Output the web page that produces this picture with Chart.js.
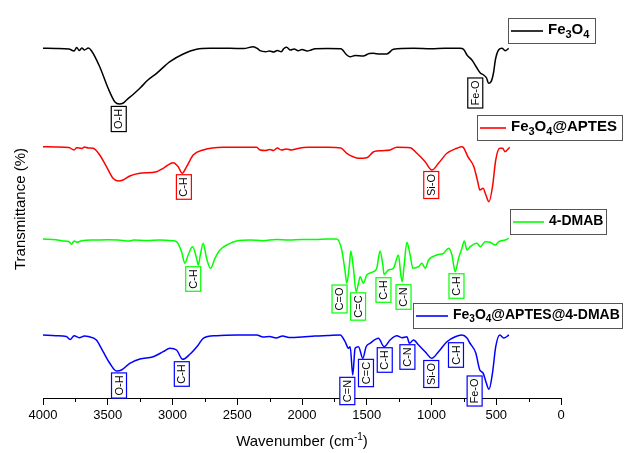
<!DOCTYPE html>
<html>
<head>
<meta charset="utf-8">
<title>FTIR spectra</title>
<script src="https://cdn.jsdelivr.net/npm/chart.js@4.4.0/dist/chart.umd.min.js"></script>
<style>
  html, body { margin: 0; padding: 0; background: #fff; }
  #wrap { width: 624px; height: 453px; position: relative; }
</style>
</head>
<body>
<div id="wrap"><canvas id="ftirChart"></canvas></div>
<script>
// FTIR spectra of the four samples, stacked with a vertical offset (arbitrary units)
const FONT = "'Liberation Sans', Arial, sans-serif";

const seriesNames = ['Fe3O4', 'Fe3O4@APTES', '4-DMAB', 'Fe3O4@APTES@4-DMAB'];
const seriesColors = ['#000000', '#ff0000', '#00ff00', '#0000ff'];

const fe3o4Wn = [4000, 3900, 3800, 3760, 3740, 3720, 3700, 3680, 3650, 3626, 3562, 3497, 3446, 3410, 3380, 3355, 3300, 3252, 3190, 3123,
  3020, 2917, 2814, 2711, 2556, 2450, 2376, 2340, 2324, 2280, 2250, 2220, 2190, 2160, 2140, 2118, 2090, 2060, 2030, 2000,
  1960, 1930, 1900, 1800, 1700, 1654, 1628, 1590, 1528, 1480, 1450, 1400, 1345, 1294, 1140, 1000, 900, 780, 752, 726,
  688, 649, 623, 598, 575, 559, 540, 520, 507, 482, 456, 430, 404];
const fe3o4T = [349.7, 349.5, 349, 347, 350.5, 347.5, 350, 348, 350, 347.3, 331.3, 309.7, 296.3, 294, 295, 298, 304, 309.7, 318, 324.7,
  336.3, 344, 348.7, 349.7, 349.7, 349.5, 351.3, 349, 347.3, 346.3, 347, 346, 347.5, 346.3, 349.5, 350.7, 348, 349, 347.3, 348.5,
  347, 348, 349.3, 349.5, 349.3, 343, 341.3, 342.5, 342, 344.5, 344.7, 344, 344, 348.7, 349.7, 349.3, 349.7, 349.7, 348.7, 343,
  338, 330, 325, 323, 320, 314.7, 316.3, 326, 338, 348, 349.7, 347.3, 349.7];

const aptesWn = [4000, 3900, 3800, 3760, 3740, 3700, 3680, 3650, 3613, 3562, 3510, 3459, 3420, 3381, 3330, 3252, 3123, 3072, 2995, 2956,
  2925, 2891, 2840, 2763, 2608, 2350, 2324, 2280, 2250, 2220, 2190, 2160, 2120, 2080, 2040, 1950, 1800, 1700, 1654, 1600,
  1564, 1500, 1450, 1423, 1380, 1320, 1268, 1165, 1113, 1049, 997, 946, 881, 804, 766, 752, 719, 673, 643, 627,
  602, 580, 556, 529, 504, 473, 450, 433, 396];
const aptesT = [251.3, 251, 250.5, 248, 250.3, 249.5, 251, 250, 249.7, 243, 231.3, 219.7, 217, 218, 222, 224.7, 226.3, 229.7, 235.3, 231.3,
  224.7, 231.3, 243, 248, 250.7, 250.7, 248, 247.5, 248.5, 247.5, 250, 248, 249, 248, 249.3, 250.7, 250.7, 250, 244.7, 241,
  239.7, 240.3, 246, 247, 247.3, 248, 250.7, 250.3, 244.7, 236.3, 228, 234.7, 244.7, 249.7, 251.3, 250.3, 241.3, 231.3, 216.3, 208,
  209.7, 203, 196.3, 211.3, 238, 249.7, 249.7, 246.3, 250.7];

const dmabWn = [4000, 3900, 3843, 3800, 3780, 3760, 3740, 3700, 3600, 3500, 3420, 3331, 3300, 3200, 3100, 3000, 2969, 2930, 2904, 2879,
  2845, 2814, 2801, 2783, 2763, 2737, 2706, 2672, 2634, 2556, 2505, 2400, 2300, 2200, 2100, 2000, 1900, 1800, 1732, 1693,
  1667, 1654, 1634, 1623, 1603, 1582, 1564, 1551, 1526, 1500, 1448, 1423, 1397, 1376, 1366, 1333, 1294, 1255, 1237, 1226,
  1211, 1190, 1165, 1144, 1100, 1074, 1049, 1023, 958, 907, 868, 842, 817, 791, 765, 747, 726, 701, 649, 623,
  585, 546, 507, 481, 430, 404];
const dmabT = [159, 158.3, 157, 156.5, 153.7, 157, 155.7, 157.3, 158, 158.3, 158, 157, 158, 157.5, 158, 157.3, 156.3, 146.3, 134.7, 143,
  151.3, 139.7, 133, 144.7, 154.7, 139.7, 129.7, 139.7, 148, 154.7, 157, 158, 157.3, 158.5, 158, 158.5, 158.5, 159, 159, 148,
  126.3, 114.7, 133, 147, 129.7, 106.3, 114.7, 121.3, 114.7, 123, 126.3, 129.7, 147, 133, 123.7, 128, 129.7, 143, 123, 116.3,
  133, 155.7, 143, 129.7, 131.3, 134.7, 129.7, 138, 143, 144.7, 149.7, 143, 126.3, 139.7, 149.7, 157, 148, 151.3, 154.7, 151.3,
  156.3, 155.7, 153, 156.3, 158, 159.7];

const hybridWn = [4000, 3900, 3820, 3790, 3760, 3720, 3680, 3650, 3588, 3536, 3484, 3433, 3394, 3330, 3252, 3149, 3072, 3020, 2969, 2922,
  2866, 2801, 2763, 2660, 2500, 2350, 2300, 2250, 2200, 2150, 2100, 2000, 1900, 1800, 1706, 1667, 1641, 1628, 1608, 1590,
  1564, 1530, 1505, 1474, 1410, 1366, 1320, 1268, 1229, 1190, 1170, 1139, 1100, 1049, 997, 946, 881, 817, 765, 726,
  704, 658, 627, 602, 580, 556, 529, 504, 473, 442, 402];
const hybridT = [63, 62.3, 61.5, 58.5, 62.3, 60.3, 62, 61.5, 58, 46.3, 34.7, 27, 28, 34.7, 39, 41.3, 46.3, 49.7, 48, 38.7,
  43.7, 53, 59.7, 62.3, 63, 63, 61, 61.5, 60, 62, 60.5, 61, 62, 62.5, 63, 56.3, 49.7, 51.3, 23, 49.7,
  51.3, 39.7, 51.3, 54.7, 59.7, 51.3, 58, 62.3, 60.3, 61.3, 54.7, 58, 53, 46.3, 39.7, 46.3, 56.3, 61.3, 63, 60,
  55, 45, 28, 25, 16.3, 8.7, 25, 51.3, 63, 60, 63];

const xTicks = [4000, 3500, 3000, 2500, 2000, 1500, 1000, 500, 0];

// band assignments, placed under the absorptions of each spectrum
const bandLabels = ['O-H', 'Fe-O', 'C-H', 'Si-O', 'C-H', 'C=O', 'C=C', 'C-H', 'C-N', 'C-H',
  'O-H', 'C-H', 'C=N', 'C=C', 'C-H', 'C-N', 'Si-O', 'C-H', 'Fe-O'];
const bandSeries = [0, 0, 1, 1, 2, 2, 2, 2, 2, 2, 3, 3, 3, 3, 3, 3, 3, 3, 3];
const bandWn = [3415, 662, 2912, 1002, 2840, 1710, 1567, 1371, 1216, 807,
  3413, 2928, 1650, 1506, 1361, 1186, 1002, 811, 667];
const bandY = [279, 305, 211, 213, 119, 99, 91.5, 108, 101, 112,
  12.5, 24, 7, 25, 38, 41, 24, 43, 7];

const spectraWn = [fe3o4Wn, aptesWn, dmabWn, hybridWn];
const spectraT = [fe3o4T, aptesT, dmabT, hybridT];

// legend boxes sit beside each trace
const legendBoxes = [
  { x: 508, y: 18, w: 87, h: 25, line: 32, size: 15 },
  { x: 477, y: 115, w: 145, h: 25, line: 26, size: 15 },
  { x: 510, y: 209, w: 96, h: 25, line: 31, size: 14 },
  { x: 413, y: 303, w: 209, h: 25, line: 32, size: 14 }
];

function drawFormula(ctx, text, x, y, size) {
  // digits right after a letter are set as subscripts (Fe3O4)
  let cx = x;
  for (let i = 0; i < text.length; i++) {
    const ch = text[i];
    const sub = /\d/.test(ch) && i > 0 && /[A-Za-z]/.test(text[i - 1]);
    ctx.font = 'bold ' + (sub ? Math.round(size * 0.72) : size) + 'px ' + FONT;
    ctx.fillText(ch, cx, sub ? y + size * 0.3 : y);
    cx += ctx.measureText(ch).width;
  }
}

const decorPlugin = {
  id: 'decor',
  afterDatasetsDraw(chart) {
    const ctx = chart.ctx;
    const xs = chart.scales.x, ys = chart.scales.y;
    ctx.save();
    ctx.font = '11px ' + FONT;
    ctx.textAlign = 'center';
    ctx.textBaseline = 'middle';
    bandLabels.forEach((lab, i) => {
      const px = xs.getPixelForValue(bandWn[i]);
      const py = ys.getPixelForValue(bandY[i]);
      const w = ctx.measureText(lab).width + 5;
      ctx.save();
      ctx.translate(px, py);
      ctx.rotate(-Math.PI / 2);
      ctx.fillStyle = '#fff';
      ctx.fillRect(-w / 2, -7.5, w, 15);
      ctx.strokeStyle = seriesColors[bandSeries[i]];
      ctx.lineWidth = 1.2;
      ctx.strokeRect(-w / 2, -7.5, w, 15);
      ctx.fillStyle = '#000';
      ctx.fillText(lab, 0, 0.5);
      ctx.restore();
    });
    ctx.restore();
  },
  afterDraw(chart) {
    const ctx = chart.ctx;
    const xs = chart.scales.x;
    const area = chart.chartArea;
    ctx.save();

    // minor ticks halfway between the labelled ones
    ctx.strokeStyle = '#000';
    ctx.lineWidth = 1;
    for (let i = 0; i < xTicks.length - 1; i++) {
      const px = Math.round(xs.getPixelForValue((xTicks[i] + xTicks[i + 1]) / 2)) + 0.5;
      ctx.beginPath();
      ctx.moveTo(px, area.bottom);
      ctx.lineTo(px, area.bottom + 4);
      ctx.stroke();
    }

    // x axis title with superscript
    ctx.fillStyle = '#000';
    ctx.textBaseline = 'middle';
    const a = 'Wavenumber (cm';
    const b = ')';
    ctx.font = '15px ' + FONT;
    const wa = ctx.measureText(a).width, wb = ctx.measureText(b).width;
    ctx.font = '10px ' + FONT;
    const ws = ctx.measureText('-1').width;
    const tx = (area.left + area.right) / 2 - (wa + ws + wb) / 2;
    const ty = 442;
    ctx.textAlign = 'left';
    ctx.font = '15px ' + FONT;
    ctx.fillText(a, tx, ty);
    ctx.font = '10px ' + FONT;
    ctx.fillText('-1', tx + wa, ty - 5);
    ctx.font = '15px ' + FONT;
    ctx.fillText(b, tx + wa + ws, ty);

    // legend boxes
    legendBoxes.forEach((box, i) => {
      ctx.fillStyle = '#fff';
      ctx.fillRect(box.x, box.y, box.w, box.h);
      ctx.strokeStyle = '#555';
      ctx.lineWidth = 1;
      ctx.strokeRect(box.x + 0.5, box.y + 0.5, box.w, box.h);
      const my = box.y + box.h / 2 + 0.5;
      ctx.strokeStyle = seriesColors[i];
      ctx.lineWidth = 1.6;
      ctx.beginPath();
      ctx.moveTo(box.x + 3, my);
      ctx.lineTo(box.x + 3 + box.line, my);
      ctx.stroke();
      ctx.fillStyle = '#000';
      ctx.textBaseline = 'middle';
      drawFormula(ctx, seriesNames[i], box.x + box.line + 8, my - 1, box.size);
    });
    ctx.restore();
  }
};

const datasets = seriesNames.map((name, i) => ({
  label: name,
  data: spectraWn[i].map((wn, j) => ({ x: wn, y: spectraT[i][j] })),
  borderColor: seriesColors[i],
  borderWidth: 1.5,
  pointRadius: 0,
  fill: false,
  cubicInterpolationMode: 'monotone'
}));

new Chart(document.getElementById('ftirChart'), {
  type: 'line',
  data: { datasets },
  options: {
    responsive: true,
    maintainAspectRatio: false,
    animation: false,
    events: [],
    layout: { padding: { top: 20, right: 63, left: 0, bottom: 0 } },
    scales: {
      x: {
        type: 'linear',
        reverse: true,
        min: 0,
        max: 4000,
        afterFit: (scale) => { scale.height = 55; },
        afterBuildTicks: (scale) => { scale.ticks = xTicks.map(v => ({ value: v })); },
        ticks: {
          color: '#000',
          font: { family: FONT, size: 13 },
          padding: 3,
          maxRotation: 0,
          callback: (v) => String(v)
        },
        grid: {
          drawOnChartArea: false,
          drawTicks: true,
          tickLength: 7,
          tickColor: '#000'
        },
        border: { display: true, color: '#000', width: 1 }
      },
      y: {
        min: 0,
        max: 378,
        afterFit: (scale) => { scale.width = 43; },
        ticks: { display: false },
        grid: { display: false },
        border: { display: false },
        title: {
          display: true,
          text: 'Transmittance (%)',
          color: '#000',
          font: { family: FONT, size: 15 },
          padding: { top: 12, bottom: 0 }
        }
      }
    },
    plugins: {
      legend: { display: false },
      tooltip: { enabled: false }
    }
  },
  plugins: [decorPlugin]
});
</script>
</body>
</html>
